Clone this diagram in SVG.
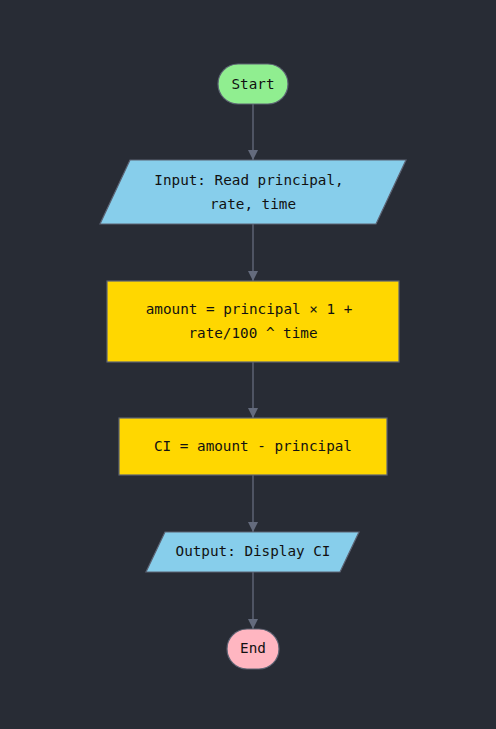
<svg xmlns="http://www.w3.org/2000/svg" width="496" height="729" viewBox="0 0 496 729">
<style>
text{font-family:"DejaVu Sans Mono","Liberation Mono",monospace;font-size:14.3px;fill:#111;text-anchor:middle;dominant-baseline:central}
.n{stroke:#5c6373;stroke-width:1.2}
.e{stroke:#646b7d;stroke-width:1.3;fill:none}
</style>
<defs><marker id="a" viewBox="0 0 10 10" refX="10" refY="5" markerWidth="10" markerHeight="10" markerUnits="userSpaceOnUse" orient="auto"><path d="M0,0L10,5L0,10z" fill="#646b7d"/></marker></defs>
<rect width="496" height="729" fill="#282c35"/>
<g id="edges">
<path class="e" d="M253,104V160" marker-end="url(#a)"/>
<path class="e" d="M253,224V281" marker-end="url(#a)"/>
<path class="e" d="M253,362V418" marker-end="url(#a)"/>
<path class="e" d="M253,475V532" marker-end="url(#a)"/>
<path class="e" d="M253,572V629" marker-end="url(#a)"/>
</g>
<g id="start"><rect class="n" x="218" y="64" width="70" height="40" rx="20" fill="#90ee90"/><text x="253" y="84">Start</text></g>
<g id="input"><path class="n" d="M130,160H406L376,224H100Z" fill="#87ceeb"/><text x="249" y="180">Input: Read principal,</text><text x="253" y="204">rate, time</text></g>
<g id="amount"><rect class="n" x="107" y="281" width="292" height="81" fill="#ffd700"/><text x="249" y="309">amount = principal × 1 +</text><text x="253" y="333">rate/100 ^ time</text></g>
<g id="ci"><rect class="n" x="119" y="418" width="268" height="57" fill="#ffd700"/><text x="253" y="446">CI = amount - principal</text></g>
<g id="output"><path class="n" d="M165,532H359L340,572H146Z" fill="#87ceeb"/><text x="253" y="551">Output: Display CI</text></g>
<g id="end"><rect class="n" x="227" y="629" width="52" height="40" rx="20" fill="#ffb6c1"/><text x="253" y="648">End</text></g>
</svg>
